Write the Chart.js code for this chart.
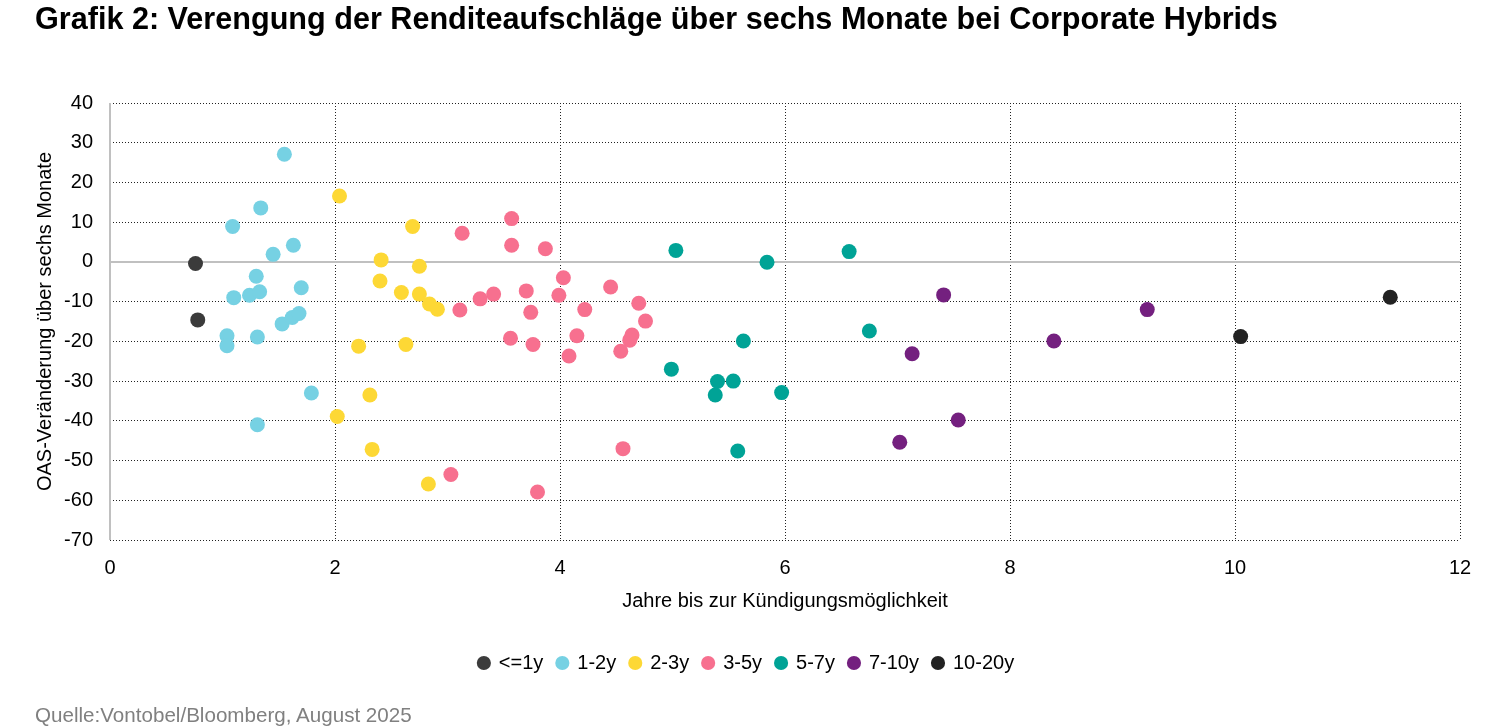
<!DOCTYPE html>
<html>
<head>
<meta charset="utf-8">
<script src="https://cdn.jsdelivr.net/npm/chart.js@4"></script>
<style>
  body { margin: 0; background: #fff; font-family: "Liberation Sans", Arial, sans-serif; }
  #wrap { position: relative; width: 1500px; height: 727px; }
  #title { position: absolute; left: 35px; top: 1px; font-size: 30.6px; font-weight: bold; color: #000; white-space: nowrap; }
  #source { position: absolute; left: 35px; top: 703px; font-size: 20.6px; color: #808080; white-space: nowrap; }
  canvas { position: absolute; left: 0; top: 0; }
</style>
</head>
<body>
<div id="wrap">
  <canvas id="chart" width="1500" height="727"></canvas>
  <div id="title">Grafik 2: Verengung der Renditeaufschläge über sechs Monate bei Corporate Hybrids</div>
  <div id="source">Quelle:Vontobel/Bloomberg, August 2025</div>
</div>
<script>
// Data: x = Jahre bis zur Kündigungsmöglichkeit, y = OAS-Veränderung
const bucketLabels = ['<=1y', '1-2y', '2-3y', '3-5y', '5-7y', '7-10y', '10-20y'];
const bucketColors = ['#3b3b3b', '#76d1e3', '#fdd835', '#f7708f', '#00a396', '#74207f', '#222222'];

const upTo1y = [
  [0.76, -0.4], [0.78, -14.6]
];
const y1to2 = [
  [1.55, 27.1], [1.34, 13.6], [1.09, 8.9], [1.63, 4.2], [1.45, 1.9], [1.30, -3.6],
  [1.70, -6.5], [1.10, -9.0], [1.24, -8.4], [1.33, -7.5], [1.53, -15.6], [1.62, -14.0],
  [1.68, -13.0], [1.04, -18.6], [1.04, -21.1], [1.31, -18.9], [1.79, -33.0], [1.31, -41.0]
];
const y2to3 = [
  [2.04, 16.6], [2.69, 8.9], [2.41, 0.5], [2.75, -1.1], [2.40, -4.8], [2.59, -7.7],
  [2.75, -8.1], [2.84, -10.6], [2.91, -11.9], [2.21, -21.2], [2.63, -20.8], [2.31, -33.5],
  [2.02, -38.9], [2.33, -47.2], [2.83, -55.9]
];
const y3to5 = [
  [3.13, 7.2], [3.57, 10.9], [3.57, 4.2], [3.87, 3.3], [4.03, -4.0], [4.45, -6.3],
  [3.70, -7.3], [3.41, -8.1], [3.29, -9.3], [3.99, -8.4], [4.70, -10.4], [3.11, -12.1],
  [3.74, -12.7], [4.22, -12.0], [4.76, -14.9], [4.15, -18.6], [4.64, -18.4], [4.62, -19.7],
  [3.56, -19.2], [3.76, -20.8], [4.08, -23.7], [4.54, -22.5], [4.56, -47.0], [3.03, -53.5],
  [3.80, -57.9]
];
const y5to7 = [
  [5.03, 2.9], [5.84, -0.1], [6.57, 2.6], [6.75, -17.4], [5.63, -19.9], [4.99, -27.0],
  [5.40, -30.1], [5.54, -30.0], [5.38, -33.5], [5.97, -32.9], [5.58, -47.6]
];
const y7to10 = [
  [7.41, -8.3], [7.13, -23.1], [7.54, -39.8], [7.02, -45.4], [8.39, -19.9], [9.22, -12.0]
];
const y10to20 = [
  [10.05, -18.8], [11.38, -8.9]
];

const seriesData = [upTo1y, y1to2, y2to3, y3to5, y5to7, y7to10, y10to20];

const xTicks = [0, 2, 4, 6, 8, 10, 12];
const yTicks = [40, 30, 20, 10, 0, -10, -20, -30, -40, -50, -60, -70];

// solid grey zero line and y axis line
const zeroLine = {
  id: 'zeroLine',
  beforeDatasetsDraw(chart) {
    const { ctx, chartArea, scales } = chart;
    const y0 = scales.y.getPixelForValue(0);
    const x0 = scales.x.getPixelForValue(0);
    ctx.save();
    ctx.strokeStyle = '#c0c0c0';
    ctx.lineWidth = 2;
    ctx.beginPath();
    ctx.moveTo(chartArea.left, y0);
    ctx.lineTo(chartArea.right, y0);
    ctx.moveTo(x0, chartArea.top);
    ctx.lineTo(x0, chartArea.bottom);
    ctx.stroke();
    ctx.restore();
  }
};

const datasets = seriesData.map((pts, i) => ({
  label: bucketLabels[i],
  data: pts.map(p => ({ x: p[0], y: p[1] })),
  backgroundColor: bucketColors[i],
  borderColor: bucketColors[i],
  borderWidth: 0,
  pointRadius: 7.5,
  pointHoverRadius: 7.5
}));

const tickFont = { family: 'Liberation Sans', size: 20 };
const titleFont = { family: 'Liberation Sans', size: 20 };

new Chart(document.getElementById('chart'), {
  type: 'scatter',
  data: { datasets },
  options: {
    responsive: false,
    animation: false,
    layout: { padding: { top: 103, right: 40, left: 33, bottom: 44 } },
    plugins: {
      tooltip: { enabled: false },
      legend: {
        position: 'bottom',
        labels: {
          usePointStyle: true,
          pointStyle: 'circle',
          boxWidth: 10,
          boxHeight: 10,
          padding: 14,
          color: '#000',
          font: { family: 'Liberation Sans', size: 20 }
        }
      }
    },
    scales: {
      x: {
        type: 'linear',
        min: 0,
        max: 12,
        afterBuildTicks: s => { s.ticks = xTicks.map(v => ({ value: v })); },
        afterFit: s => { s.height = 99; },
        border: { display: false, dash: [1, 2] },
        grid: { color: '#222', lineWidth: 1, drawTicks: false },
        ticks: { color: '#000', font: tickFont, padding: 16 },
        title: {
          display: true,
          text: 'Jahre bis zur Kündigungsmöglichkeit',
          color: '#000',
          font: titleFont,
          padding: { top: 0, bottom: 26 }
        }
      },
      y: {
        type: 'linear',
        min: -70,
        max: 40,
        afterBuildTicks: s => { s.ticks = yTicks.map(v => ({ value: v })); },
        afterFit: s => { s.width = 77; },
        border: { display: false, dash: [1, 2] },
        grid: { color: '#222', lineWidth: 1, drawTicks: false },
        ticks: { color: '#000', font: tickFont, padding: 17 },
        title: {
          display: true,
          text: 'OAS-Veränderung über sechs Monate',
          color: '#000',
          font: titleFont,
          padding: { top: 0, bottom: 0 }
        }
      }
    }
  },
  plugins: [zeroLine]
});
</script>
</body>
</html>
